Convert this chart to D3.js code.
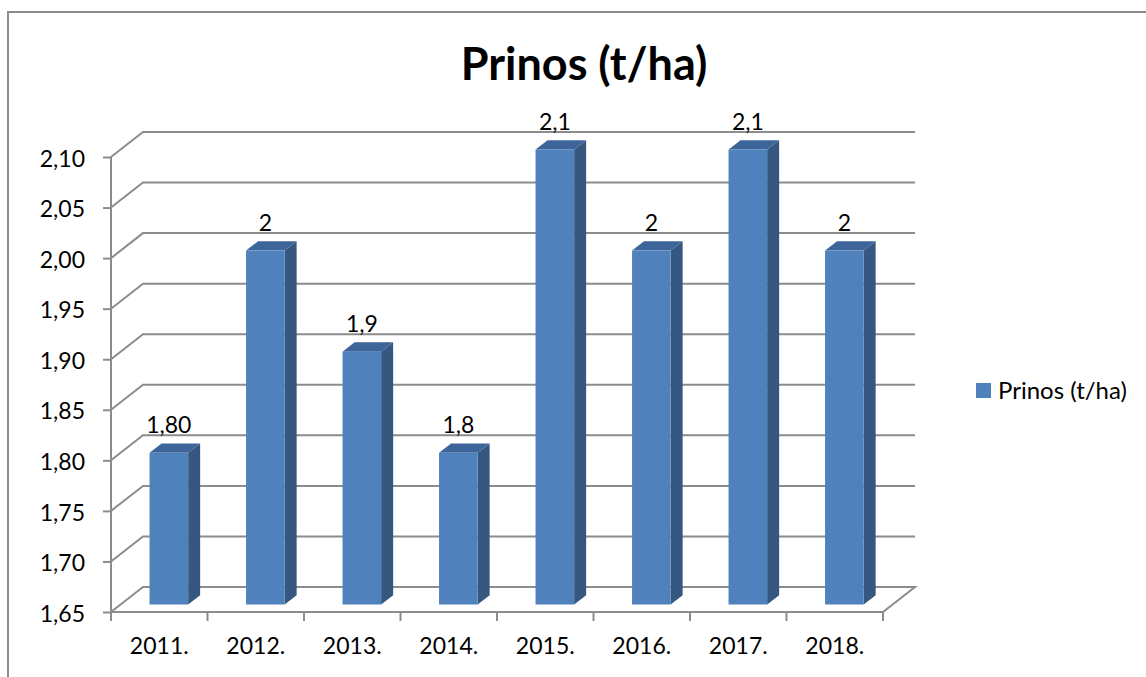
<!DOCTYPE html>
<html>
<head>
<meta charset="utf-8">
<script src="https://cdn.jsdelivr.net/npm/d3@7"></script>
<style>
  body { margin: 0; background: #fff; }
  svg { display: block; font-family: Lato, "Open Sans", sans-serif; }
</style>
</head>
<body>
<svg width="1146" height="677"></svg>
<script>
// chart data
var years = ["2011.", "2012.", "2013.", "2014.", "2015.", "2016.", "2017.", "2018."];
var prinos = [1.80, 2.00, 1.90, 1.80, 2.10, 2.00, 2.10, 2.00];
var dataLabels = ["1,80", "2", "1,9", "1,8", "2,1", "2", "2,1", "2"];
var yTicks = [1.65, 1.70, 1.75, 1.80, 1.85, 1.90, 1.95, 2.00, 2.05, 2.10];
var seriesName = "Prinos (t/ha)";

var svg = d3.select("svg");

// depth of the 3d box (back wall is shifted right and up)
var depthX = 32, depthY = -25;
var gridColor = "#8c8c8c";
var labelSize = "23px";

var x = d3.scaleBand()
	.domain(years)
	.range([111, 883])
	.paddingInner(0.6)
	.paddingOuter(0.3);

var y = d3.scaleLinear()
	.domain([1.65, 2.10])
	.range([612, 157]);

// outer chart border (only top and left visible)
svg.append("path")
	.attr("d", "M8,677 L8,12 L1146,12")
	.attr("fill", "none")
	.attr("stroke", gridColor)
	.attr("stroke-width", 2);

// title
svg.append("text")
	.attr("x", 584)
	.attr("y", 80)
	.attr("text-anchor", "middle")
	.style("font-size", "45px")
	.style("font-weight", "bold")
	.text(seriesName);

var grid = svg.append("g");

// gridlines: left wall diagonal + back wall horizontal
yTicks.forEach(function(t){
	var yy = y(t);
	var xl = x.range()[0], xr = x.range()[1];
	var d;
	if (t === yTicks[0]) {
		// floor
		d = "M" + xl + "," + yy + " L" + (xl + depthX) + "," + (yy + depthY) +
			" L" + (xr + depthX) + "," + (yy + depthY) +
			" L" + xr + "," + yy + " L" + xl + "," + yy;
	} else {
		d = "M" + xl + "," + yy + " L" + (xl + depthX) + "," + (yy + depthY) +
			" L" + (xr + depthX) + "," + (yy + depthY);
	}
	grid.append("path")
		.attr("d", d)
		.attr("fill", "none")
		.attr("stroke", gridColor)
		.attr("stroke-width", 2);
});

// y axis
var yAxis = d3.axisLeft(y)
	.tickValues(yTicks)
	.tickSize(8)
	.tickPadding(18)
	.tickFormat(function(d){ return d.toFixed(2).replace(".", ","); });

var yg = svg.append("g")
	.attr("transform", "translate(" + x.range()[0] + ",0)")
	.call(yAxis);
yg.select(".domain").attr("stroke", gridColor).attr("stroke-width", 2)
	.attr("d", "M0," + y(2.10) + "V" + y(1.65));
yg.selectAll(".tick line").attr("stroke", gridColor).attr("stroke-width", 2);
yg.selectAll(".tick text")
	.attr("dy", "0.4em")
	.style("font-family", "Lato, sans-serif")
	.style("font-size", labelSize)
	.attr("fill", "#000");

// x axis
var xAxis = d3.axisBottom(x)
	.tickSize(0);
var xg = svg.append("g")
	.attr("transform", "translate(0," + y(1.65) + ")")
	.call(xAxis);
xg.select(".domain").remove();
xg.selectAll(".tick text")
	.attr("y", 42)
	.attr("dy", 0)
	.style("font-family", "Lato, sans-serif")
	.style("font-size", labelSize)
	.attr("fill", "#000");

// tick marks between categories
var step = x.step();
var edges = d3.range(years.length + 1).map(function(i){ return x.range()[0] + i * step; });
svg.append("g").selectAll("line")
	.data(edges)
	.enter()
	.append("line")
	.attr("x1", function(d){ return d; })
	.attr("x2", function(d){ return d; })
	.attr("y1", y(1.65))
	.attr("y2", y(1.65) + 9)
	.attr("stroke", gridColor)
	.attr("stroke-width", 2);

// 3d bars
var f0 = 0.3, fd = 0.375;
var bx = depthX * f0, by = depthY * f0;
var sx = depthX * fd, sy = depthY * fd;

var bars = svg.append("g").selectAll("g")
	.data(prinos)
	.enter()
	.append("g");

// side face
bars.append("path")
	.attr("d", function(d, i){
		var x1 = x(years[i]) + bx + x.bandwidth();
		var yt = y(d) + by, yb = y(1.65) + by;
		return "M" + x1 + "," + yb + " L" + x1 + "," + yt +
			" L" + (x1 + sx) + "," + (yt + sy) + " L" + (x1 + sx) + "," + (yb + sy) + "Z";
	})
	.attr("fill", "#36577f");

// top face
bars.append("path")
	.attr("d", function(d, i){
		var x0 = x(years[i]) + bx, x1 = x0 + x.bandwidth();
		var yt = y(d) + by;
		return "M" + x0 + "," + yt + " L" + x1 + "," + yt +
			" L" + (x1 + sx) + "," + (yt + sy) + " L" + (x0 + sx) + "," + (yt + sy) + "Z";
	})
	.attr("fill", "#3d6599");

// front face
bars.append("rect")
	.attr("x", function(d, i){ return x(years[i]) + bx; })
	.attr("y", function(d){ return y(d) + by; })
	.attr("width", x.bandwidth())
	.attr("height", function(d){ return y(1.65) - y(d); })
	.attr("fill", "#4f81bd");

// data labels
bars.append("text")
	.attr("x", function(d, i){ return x(years[i]) + bx + x.bandwidth() / 2; })
	.attr("y", function(d){ return y(d) + by + sy - 10; })
	.attr("text-anchor", "middle")
	.style("font-size", labelSize)
	.text(function(d, i){ return dataLabels[i]; });

// legend
var lg = svg.append("g").attr("transform", "translate(976,383)");
lg.append("rect").attr("width", 15).attr("height", 15).attr("fill", "#4f81bd");
lg.append("text")
	.attr("x", 22)
	.attr("y", 16)
	.style("font-size", "24px")
	.text(seriesName);
</script>
</body>
</html>
